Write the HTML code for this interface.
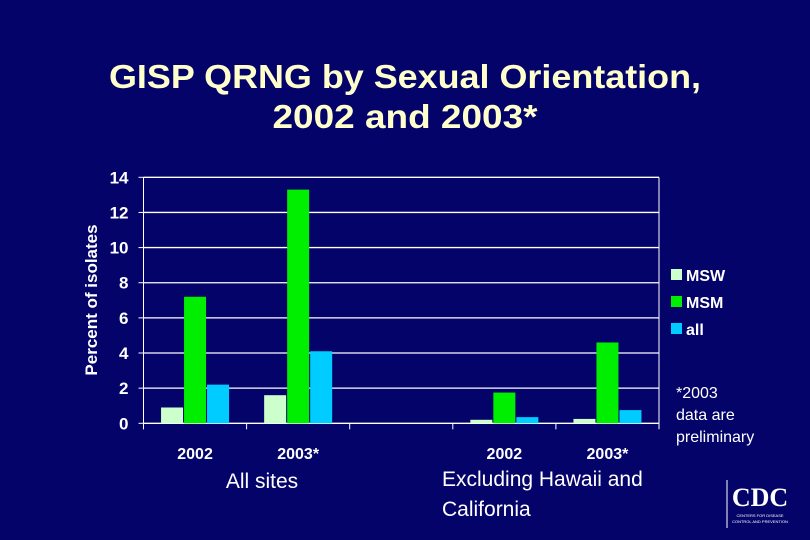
<!DOCTYPE html>
<html><head><meta charset="utf-8"><style>
body{margin:0;background:#03036a;}
svg{display:block;font-family:"Liberation Sans",Arial,sans-serif;}
</style></head><body>
<svg id="chart" width="810" height="540" viewBox="0 0 810 540">
<rect width="810" height="540" fill="#03036a"/>
<text x="405" y="88" text-anchor="middle" font-size="33" font-weight="bold" fill="#ffffcc" textLength="592" lengthAdjust="spacingAndGlyphs">GISP QRNG by Sexual Orientation,</text>
<text x="405" y="128" text-anchor="middle" font-size="33" font-weight="bold" fill="#ffffcc" textLength="265" lengthAdjust="spacingAndGlyphs">2002 and 2003*</text>
<g id="grid"></g><g id="bars"></g><g id="axes"></g>
<text transform="translate(97,300) rotate(-90)" text-anchor="middle" font-size="17" font-weight="bold" fill="#fff">Percent of isolates</text>
<text x="262" y="488" text-anchor="middle" font-size="21" fill="#fff">All sites</text>
<text x="442" y="486" font-size="21" fill="#fff">Excluding Hawaii and</text>
<text x="442" y="516" font-size="21" fill="#fff">California</text>
<g>
<rect x="671" y="269" width="11" height="11" fill="#ccffcc"/>
<text x="686" y="281" font-size="16" font-weight="bold" fill="#fff">MSW</text>
<rect x="671" y="296" width="11" height="11" fill="#00ee00"/>
<text x="686" y="308" font-size="16" font-weight="bold" fill="#fff">MSM</text>
<rect x="671" y="323" width="11" height="11" fill="#00ccff"/>
<text x="686" y="335" font-size="16" font-weight="bold" fill="#fff">all</text>
</g>
<g font-size="16" fill="#fff">
<text x="676" y="398">*2003</text><text x="676" y="420">data are</text><text x="676" y="442">preliminary</text>
</g>
<g>
<line x1="727" y1="480" x2="727" y2="528" stroke="#fff" stroke-width="1"/>
<text x="760" y="506" text-anchor="middle" font-family="Liberation Serif,serif" font-size="26" font-weight="bold" fill="#fff">CDC</text>
<text x="760" y="517" text-anchor="middle" font-size="4" fill="#fff">CENTERS FOR DISEASE</text>
<text x="760" y="523" text-anchor="middle" font-size="4" fill="#fff">CONTROL AND PREVENTION</text>
</g>
</svg>
<script>
const categories=["2002","2003*","","2002","2003*"];
const msw=[0.9,1.6,0,0.2,0.25];
const msm=[7.2,13.3,0,1.75,4.6];
const allv=[2.2,4.1,0,0.35,0.75];
const yTicks=[0,2,4,6,8,10,12,14];
const NS="http://www.w3.org/2000/svg";
const X0=143.5,X1=659,Y0=423.3,Y1=177.3,YMAX=14;
const y=v=>Y0-(Y0-Y1)*v/YMAX;
const bw=(X1-X0)/categories.length;
const cx=i=>X0+bw*(i+0.5);
function mk(tag,attrs,parent){const e=document.createElementNS(NS,tag);for(const k in attrs)e.setAttribute(k,attrs[k]);document.getElementById(parent).appendChild(e);return e;}
yTicks.forEach(t=>{
 const l=mk('line',{x1:X0,x2:X1,y1:y(t),y2:y(t),stroke:'#fff','stroke-width':1.3},'grid');
 
 
 const tk=mk('line',{x1:X0-5,x2:X0,y1:y(t),y2:y(t),stroke:'#fff'},'axes');
 
 
 const tx=mk('text',{x:X0-15,y:y(t)+6,'text-anchor':'end','font-size':17,'font-weight':'bold',fill:'#fff'},'axes');
 tx.textContent=t;
 
 
});
const r=mk('line',{x1:X1,x2:X1,y1:Y1,y2:Y0,stroke:'#fff'},'grid');


const ya=mk('line',{x1:X0,x2:X0,y1:Y1,y2:Y0+6,stroke:'#fff'},'axes');


for(let i=0;i<=categories.length;i++){
 const t=mk('line',{x1:X0+bw*i,x2:X0+bw*i,y1:Y0,y2:Y0+6,stroke:'#fff'},'axes');
 
 
}
categories.forEach((c,i)=>{
 if(!c)return;
 const t=mk('text',{x:cx(i),y:459,'text-anchor':'middle','font-size':16,'font-weight':'bold',fill:'#fff'},'axes');
 t.textContent=c;
 
 
});
const series=[[msw,'#ccffcc','msw'],[msm,'#00ee00','msm'],[allv,'#00ccff','all']];
const barW=23;
series.forEach(([vals,col,nm],s)=>{
 vals.forEach((v,i)=>{
  if(v<=0)return;
  const x=cx(i)-1.5*barW+s*barW+0.5;
  const b=mk('rect',{x:x,y:y(v),width:barW-1,height:Y0-y(v),fill:col},'bars');
  
  
 });
});
</script>
</body></html>
